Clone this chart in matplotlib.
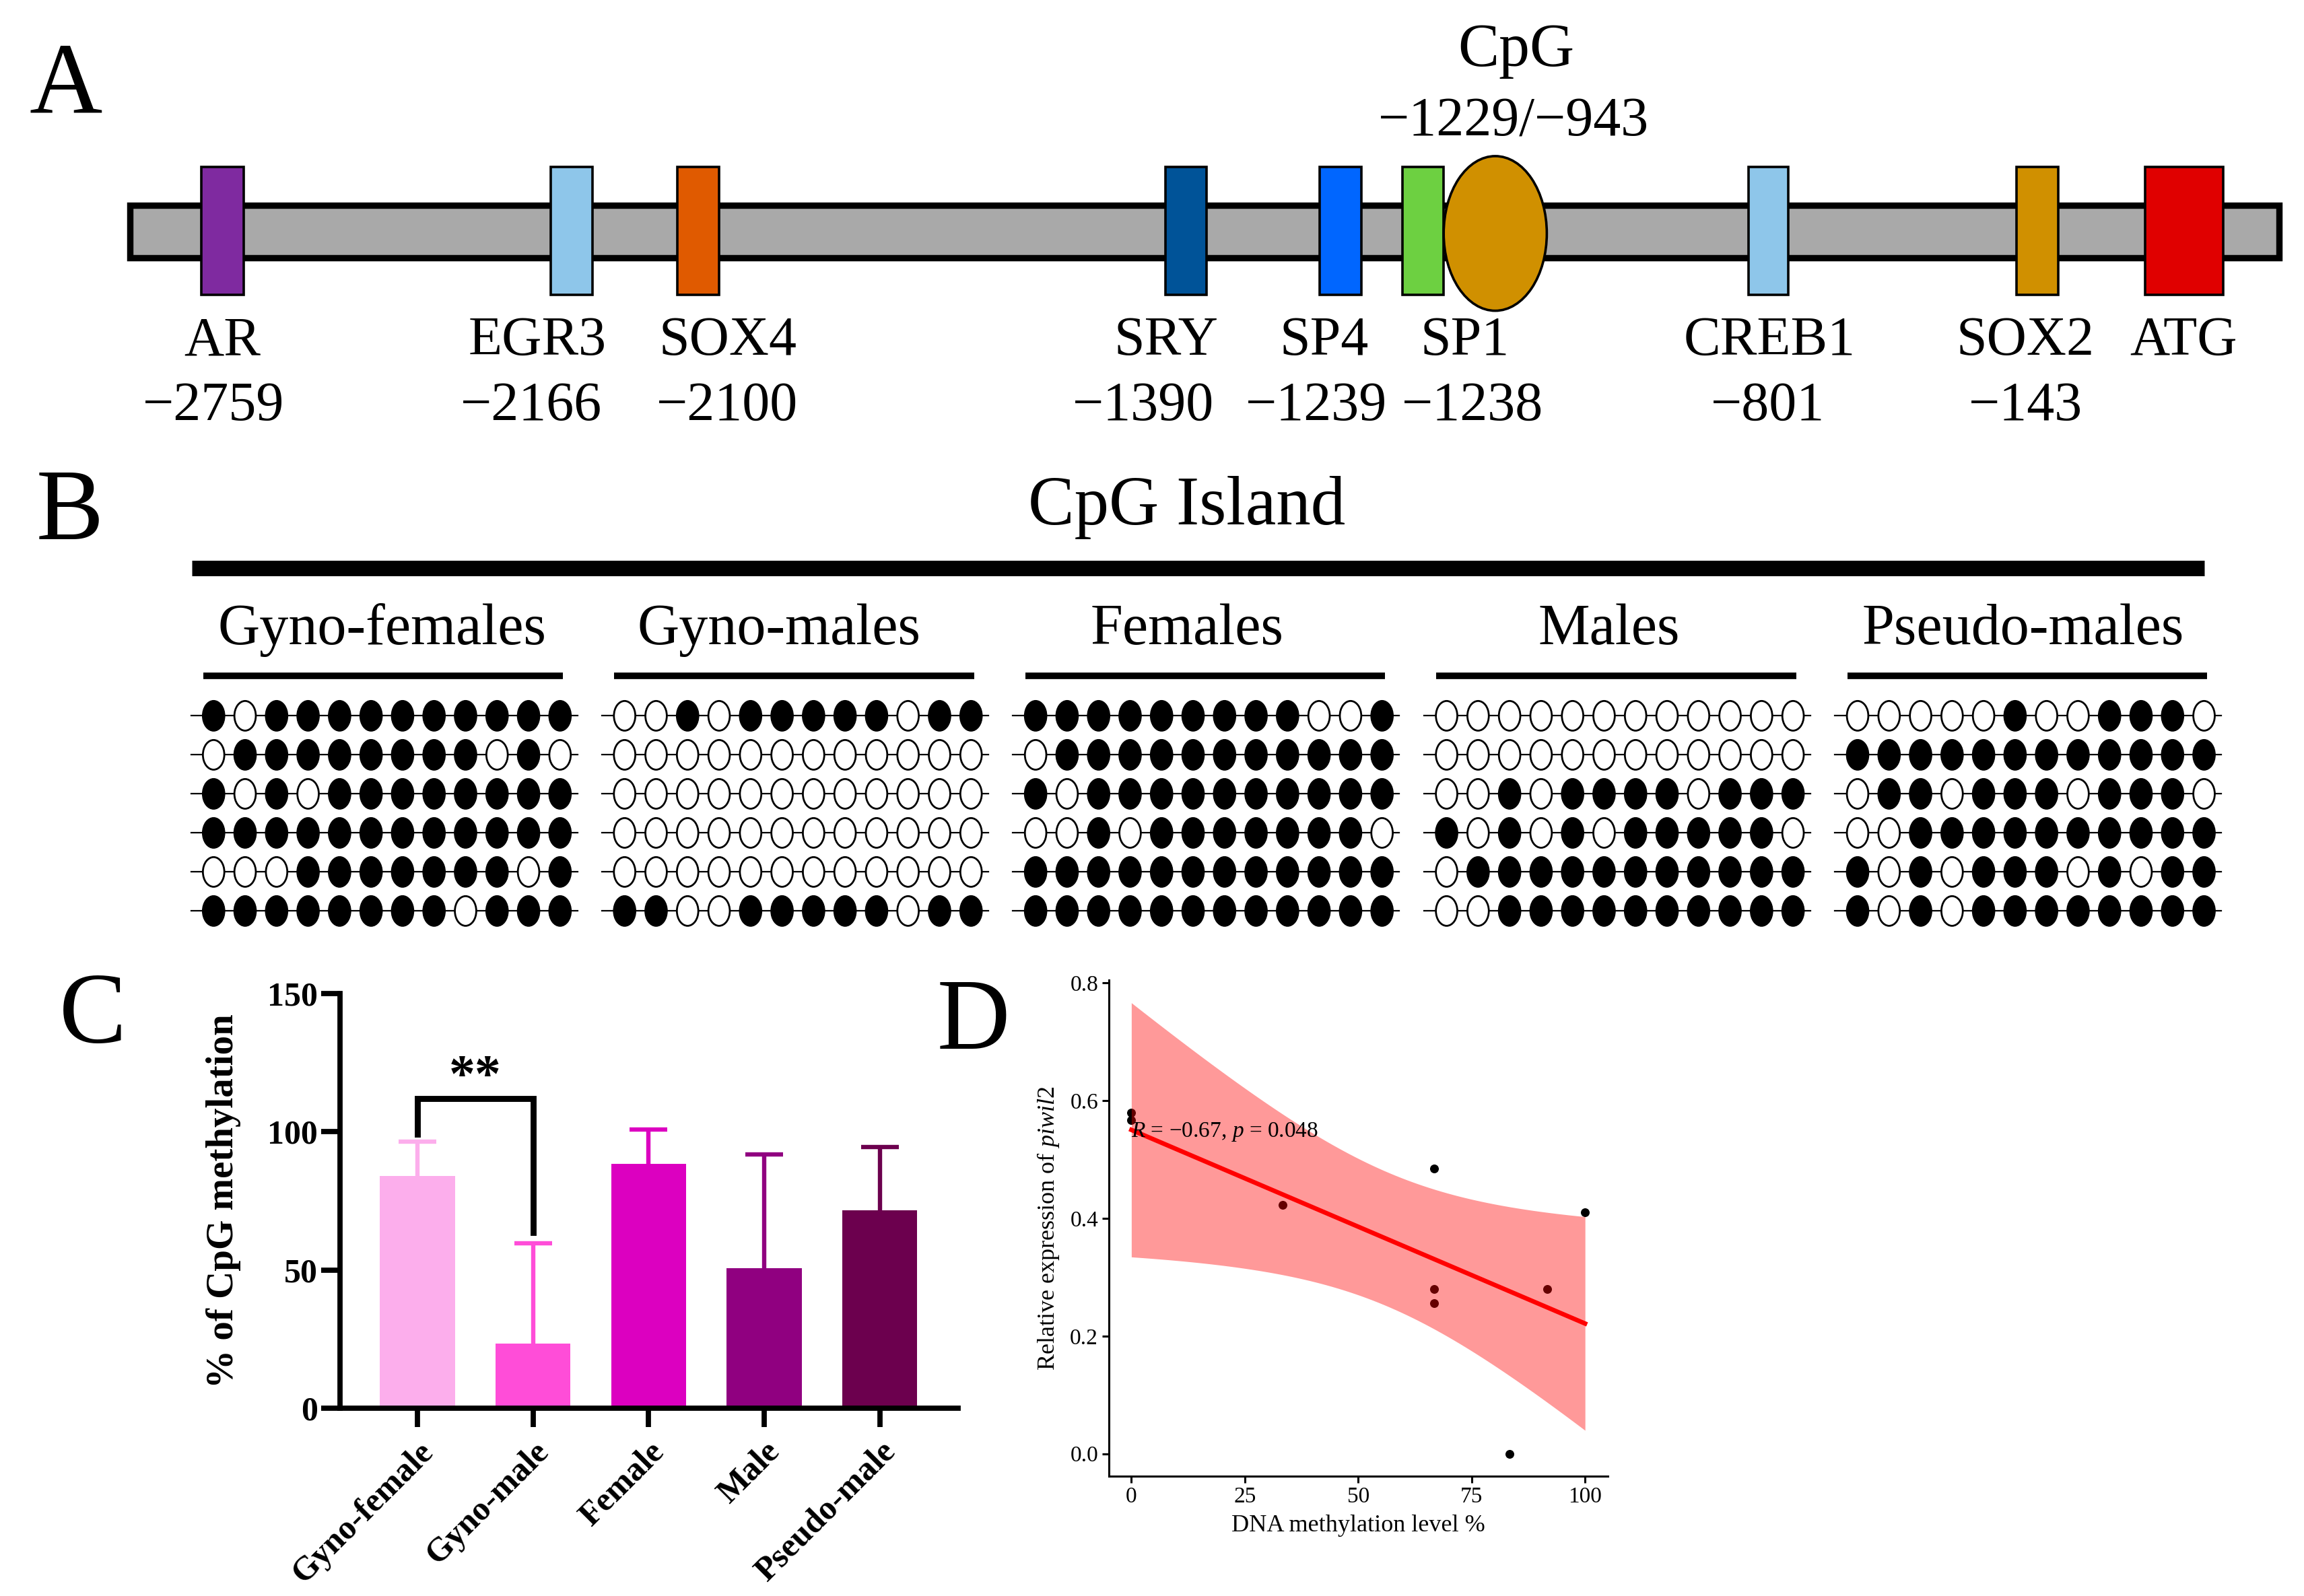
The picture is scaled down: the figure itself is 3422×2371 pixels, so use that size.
import numpy as np
import matplotlib
matplotlib.use('Agg')
import matplotlib.pyplot as plt
from matplotlib.patches import Rectangle, Ellipse

plt.rcParams['font.family'] = ['Liberation Serif', 'DejaVu Serif']
plt.rcParams['mathtext.fontset'] = 'custom'
plt.rcParams['mathtext.rm'] = 'Liberation Serif'
plt.rcParams['mathtext.it'] = 'Liberation Serif:italic'

# ---------------- data ----------------
# A: binding sites on the promoter
site_names = ['AR', 'EGR3', 'SOX4', 'SRY', 'SP4', 'SP1', 'CREB1', 'SOX2', 'ATG']
site_pos = ['\u22122759', '\u22122166', '\u22122100', '\u22121390', '\u22121239',
            '\u22121238', '\u2212801', '\u2212143', '']
site_colors = ['#7F2AA0', '#8EC6EA', '#E05A00', '#005398', '#0066FF',
               '#6DD041', '#8EC6EA', '#D09000', '#E00000']
cpg_label = 'CpG'
cpg_range = '\u22121229/\u2212943'
cpg_color = '#D09000'

# B: methylation state of 12 CpG sites, 6 clones per group (1 = methylated)
groups = ['Gyno-females', 'Gyno-males', 'Females', 'Males', 'Pseudo-males']
gyno_females = [[1, 0, 1, 1, 1, 1, 1, 1, 1, 1, 1, 1],
                [0, 1, 1, 1, 1, 1, 1, 1, 1, 0, 1, 0],
                [1, 0, 1, 0, 1, 1, 1, 1, 1, 1, 1, 1],
                [1, 1, 1, 1, 1, 1, 1, 1, 1, 1, 1, 1],
                [0, 0, 0, 1, 1, 1, 1, 1, 1, 1, 0, 1],
                [1, 1, 1, 1, 1, 1, 1, 1, 0, 1, 1, 1]]
gyno_males = [[0, 0, 1, 0, 1, 1, 1, 1, 1, 0, 1, 1],
              [0, 0, 0, 0, 0, 0, 0, 0, 0, 0, 0, 0],
              [0, 0, 0, 0, 0, 0, 0, 0, 0, 0, 0, 0],
              [0, 0, 0, 0, 0, 0, 0, 0, 0, 0, 0, 0],
              [0, 0, 0, 0, 0, 0, 0, 0, 0, 0, 0, 0],
              [1, 1, 0, 0, 1, 1, 1, 1, 1, 0, 1, 1]]
females = [[1, 1, 1, 1, 1, 1, 1, 1, 1, 0, 0, 1],
           [0, 1, 1, 1, 1, 1, 1, 1, 1, 1, 1, 1],
           [1, 0, 1, 1, 1, 1, 1, 1, 1, 1, 1, 1],
           [0, 0, 1, 0, 1, 1, 1, 1, 1, 1, 1, 0],
           [1, 1, 1, 1, 1, 1, 1, 1, 1, 1, 1, 1],
           [1, 1, 1, 1, 1, 1, 1, 1, 1, 1, 1, 1]]
males = [[0, 0, 0, 0, 0, 0, 0, 0, 0, 0, 0, 0],
         [0, 0, 0, 0, 0, 0, 0, 0, 0, 0, 0, 0],
         [0, 0, 1, 0, 1, 1, 1, 1, 0, 1, 1, 1],
         [1, 0, 1, 0, 1, 0, 1, 1, 1, 1, 1, 0],
         [0, 1, 1, 1, 1, 1, 1, 1, 1, 1, 1, 1],
         [0, 0, 1, 1, 1, 1, 1, 1, 1, 1, 1, 1]]
pseudo_males = [[0, 0, 0, 0, 0, 1, 0, 0, 1, 1, 1, 0],
                [1, 1, 1, 1, 1, 1, 1, 1, 1, 1, 1, 1],
                [0, 1, 1, 0, 1, 1, 1, 0, 1, 1, 1, 0],
                [0, 0, 1, 1, 1, 1, 1, 1, 1, 1, 1, 1],
                [1, 0, 1, 0, 1, 1, 1, 0, 1, 0, 1, 1],
                [1, 0, 1, 0, 1, 1, 1, 1, 1, 1, 1, 1]]
patterns = [gyno_females, gyno_males, females, males, pseudo_males]

# C: % CpG methylation (mean, SD)
bar_groups = ['Gyno-female', 'Gyno-male', 'Female', 'Male', 'Pseudo-male']
bar_means = [84.0, 23.3, 88.3, 50.7, 71.6]
bar_sd = [12.3, 36.4, 12.6, 41.0, 22.8]
bar_colors = ['#FCAEEC', '#FF4DD8', '#DC00C0', '#900080', '#6C004E']

# D: methylation level vs piwil2 expression
meth_level = [0, 0, 33.3, 66.7, 66.7, 66.7, 83.3, 91.7, 100]
piwil2_expr = [0.58, 0.567, 0.423, 0.485, 0.28, 0.256, 0.0, 0.28, 0.41]

# ---------------- layout (panel A in reference units) ----------------
box_x = [151, 388, 474, 805, 910, 966, 1200.5, 1383, 1482.5]
box_w = [29, 28, 28, 28, 28, 28, 27, 28, 53]
name_x = [151, 364.6, 494, 791.5, 899, 994.5, 1201, 1375, 1482]
num_x = [145, 360.7, 493.6, 776, 893.5, 999.6, 1200, 1375, 1482]
title_dx = [5.35, 4.9, 4.8, 5.15, 5.25]

fig = plt.figure(figsize=(17.11, 11.855), dpi=200)

# panel letters
fig.text(0.0127, 0.9296, 'A', fontsize=54, va='baseline')
fig.text(0.0157, 0.6623, 'B', fontsize=54, va='baseline')
fig.text(0.0256, 0.3467, 'C', fontsize=54, va='baseline')
fig.text(0.4068, 0.3431, 'D', fontsize=54, va='baseline')

# ---------------- A ----------------
axA = fig.add_axes([0, 1 - 680 / 2371, 1, 680 / 2371])
axA.set_xlim(0, 1564)
axA.set_ylim(310.8, 0)
axA.axis('off')
axA.add_patch(Rectangle((88, 139.5), 1459, 35.6, fc='#A9A9A9', ec='black', lw=3.4, zorder=1))
for name, pos, col, bx, bw, tx, px in zip(site_names, site_pos, site_colors,
                                          box_x, box_w, name_x, num_x):
    axA.add_patch(Rectangle((bx - bw / 2, 113.5), bw, 86.5, fc=col, ec='black', lw=1.3, zorder=3))
    axA.text(tx, 241, name, ha='center', va='baseline', fontsize=29.5)
    if pos:
        axA.text(px, 285, pos, ha='center', va='baseline', fontsize=29.5)
axA.add_patch(Ellipse((1015, 158.5), 70, 105, fc=cpg_color, ec='black', lw=1.3, zorder=4))
axA.text(1029, 44.6, cpg_label, ha='center', va='baseline', fontsize=33)
axA.text(1027.5, 92, cpg_range, ha='center', va='baseline', fontsize=29.5)

# ---------------- B ----------------
axB = fig.add_axes([0.06394, 0.4094, 0.9207, 0.3045])
axB.set_xlim(-2.105, 65.25)
axB.set_ylim(5.81, -6.64)
axB.axis('off')
gap = 13.05
axB.plot([-0.7, 63.2], [-3.79, -3.79], color='black', lw=8.3, solid_capstyle='butt')
axB.text(30.9, -4.9, 'CpG Island', ha='center', va='baseline', fontsize=37)
for g, (title, pattern) in enumerate(zip(groups, patterns)):
    x0 = g * gap
    axB.text(x0 + title_dx[g], -1.84, title, ha='center', va='baseline', fontsize=31)
    axB.plot([x0 - 0.33, x0 + 11.1], [-1.02, -1.02], color='black', lw=3.5,
             solid_capstyle='butt')
    for r, row in enumerate(pattern):
        axB.plot([x0 - 0.72, x0 + 11.55], [r, r], color='black', lw=0.8, zorder=1)
        for i, m in enumerate(row):
            axB.add_patch(Ellipse((x0 + i, r), 0.68, 0.76,
                                  fc='black' if m else 'white', ec='black',
                                  lw=1.0, zorder=2))

# ---------------- C ----------------
axC = fig.add_axes([0.1476, 0.1177, 0.2683, 0.2598])
xc = np.arange(len(bar_groups))
axC.bar(xc, bar_means, width=0.65, color=bar_colors, zorder=2)
for i in range(len(bar_groups)):
    _, caps, _ = axC.errorbar(xc[i], bar_means[i], yerr=[[0], [bar_sd[i]]], fmt='none',
                              ecolor=bar_colors[i], elinewidth=2.3, capsize=10,
                              capthick=2.3, zorder=3)
    caps[0].set_visible(False)
axC.plot([0, 0, 1, 1], [99, 112, 112, 63.5], color='black', lw=3.2,
         solid_joinstyle='miter', zorder=4)
axC.text(0.5, 115, '**', ha='center', va='baseline', fontsize=28, fontweight='bold')
axC.set_xlim(-0.67, 4.68)
axC.set_ylim(0, 150)
axC.set_yticks([0, 50, 100, 150])
axC.set_xticks(xc)
axC.set_xticklabels(bar_groups, rotation=45, ha='right', rotation_mode='anchor',
                    fontweight='bold', fontsize=18)
for lab in axC.get_yticklabels():
    lab.set_fontweight('bold')
axC.tick_params(axis='both', direction='out', length=10, width=2.8, labelsize=18)
axC.tick_params(axis='y', pad=2)
axC.tick_params(axis='x', pad=5)
for s in ['top', 'right']:
    axC.spines[s].set_visible(False)
for s in ['left', 'bottom']:
    axC.spines[s].set_linewidth(2.8)
axC.set_ylabel('% of CpG methylation', fontsize=20.5, fontweight='bold')
axC.yaxis.set_label_coords(-0.16, 0.5)

# ---------------- D ----------------
axD = fig.add_axes([0.4812, 0.0751, 0.2166, 0.3108])
xd = np.array(meth_level)
yd = np.array(piwil2_expr)
n = len(xd)
slope, intercept = np.polyfit(xd, yd, 1)
xs = np.linspace(xd.min(), xd.max(), 80)
fit = intercept + slope * xs
resid = yd - (intercept + slope * xd)
s_err = np.sqrt(np.sum(resid ** 2) / (n - 2))
sxx = np.sum((xd - xd.mean()) ** 2)
t_crit = 2.365  # t(0.975, df=7)
band = t_crit * s_err * np.sqrt(1 / n + (xs - xd.mean()) ** 2 / sxx)

axD.scatter(xd, yd, s=22, color='black', zorder=2, linewidths=0)
axD.fill_between(xs, fit - band, fit + band, color='red', alpha=0.4, lw=0, zorder=3)
axD.plot(xs, fit, color='red', lw=2.4, zorder=4)
axD.text(0, 0.538, '$\\it{R}$ = \u22120.67, $\\it{p}$ = 0.048',
         fontsize=12, ha='left', va='baseline', zorder=5)
axD.set_xlim(-5, 105)
axD.set_ylim(-0.038, 0.805)
axD.set_xticks([0, 25, 50, 75, 100])
axD.set_yticks([0.0, 0.2, 0.4, 0.6, 0.8])
axD.tick_params(axis='both', direction='out', length=3.6, width=1.1, labelsize=12, pad=2)
for s in ['top', 'right']:
    axD.spines[s].set_visible(False)
for s in ['left', 'bottom']:
    axD.spines[s].set_linewidth(1.1)
axD.set_xlabel('DNA methylation level %', fontsize=13)
axD.set_ylabel(r'Relative expression of $\it{piwil2}$', fontsize=13)
axD.yaxis.set_label_coords(-0.096, 0.5)

fig.savefig('out.png', dpi=200)
